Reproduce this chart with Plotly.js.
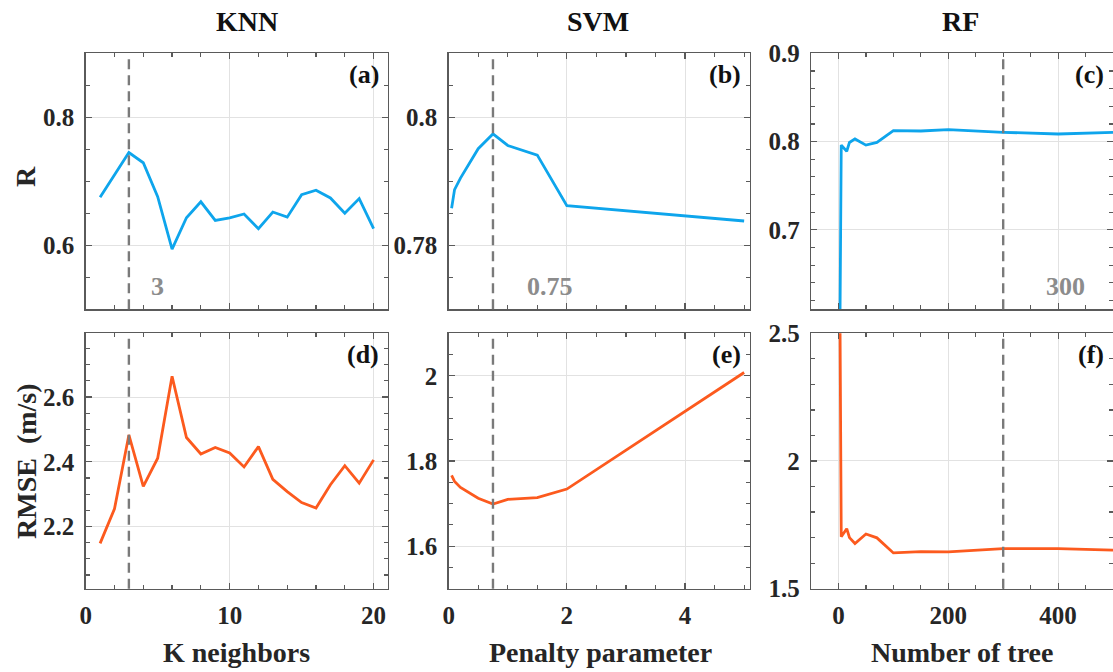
<!DOCTYPE html>
<html>
<head>
<meta charset="utf-8">
<script src="https://cdn.plot.ly/plotly-3.0.1.min.js"></script>
<style>html,body{margin:0;padding:0;background:#fff;}#chart{width:1113px;height:672px;}</style>
</head>
<body>
<div id="chart"></div>
<script>
// ---------- data ----------
const kNeighbors = [1,2,3,4,5,6,7,8,9,10,11,12,13,14,15,16,17,18,19,20];
const knnR    = [0.675,0.710,0.745,0.729,0.676,0.594,0.643,0.668,0.639,0.643,0.649,0.626,0.652,0.644,0.679,0.686,0.674,0.650,0.673,0.626];
const knnRMSE = [2.148,2.255,2.483,2.324,2.411,2.664,2.475,2.424,2.444,2.427,2.384,2.447,2.346,2.308,2.274,2.257,2.329,2.388,2.334,2.406];

const svmPenalty = [0.05,0.1,0.2,0.5,0.75,1,1.5,2,5];
const svmR    = [0.7858,0.7887,0.7905,0.7951,0.7974,0.7956,0.7941,0.7862,0.7838];
const svmRMSE = [1.766,1.752,1.738,1.7125,1.699,1.710,1.714,1.734,2.008];

const rfTrees = [1,5,15,20,30,50,70,100,150,200,300,400,500];
const rfR    = [0.45,0.796,0.789,0.799,0.803,0.796,0.799,0.8124,0.812,0.8135,0.8105,0.8086,0.8105];
const rfRMSE = [3.2,1.703,1.735,1.700,1.677,1.714,1.699,1.640,1.645,1.644,1.657,1.657,1.651];

const modelNames = ['KNN','SVM','RF'];
const xTitles = ['K neighbors','Penalty parameter','Number of tree'];
const panelLabels = ['(a)','(b)','(c)','(d)','(e)','(f)'];
const bestParams = [3, 0.75, 300];
const bestLabels = ['3','0.75','300'];

const knnXTicks = [0,10,20];        const knnXText = ['0','10','20'];
const svmXTicks = [0,2,4];          const svmXText = ['0','2','4'];
const rfXTicks  = [0,200,400];      const rfXText  = ['0','200','400'];
const knnRTicks = [0.6,0.8];        const knnRText = ['0.6','0.8'];
const svmRTicks = [0.78,0.80];      const svmRText = ['0.78','0.8'];
const rfRTicks  = [0.7,0.8,0.9];    const rfRText  = ['0.7','0.8','0.9'];
const knnETicks = [2.2,2.4,2.6];    const knnEText = ['2.2','2.4','2.6'];
const svmETicks = [1.6,1.8,2.0];    const svmEText = ['1.6','1.8','2'];
const rfETicks  = [1.5,2.0,2.5];    const rfEText  = ['1.5','2','2.5'];

// ---------- style ----------
const FONT = 'Liberation Serif';
const blue = '#0ea5ec';
const orange = '#fc5a1e';
const axisCol = '#5a5a5a';
function tickFont(){ return {family: FONT, size: 25, color: '#262626', weight: 'bold'}; }

const colDom = [[0.0770,0.3486],[0.4031,0.6739],[0.7287,1.0]];
const rowDom = [[0.5397,0.9207],[0.1240,0.5040]];

function axisBase(dom, range, tv, tt, minorD, anchor){
  return {domain: dom, range: range, anchor: anchor, tickmode:'array', tickvals: tv, ticktext: tt,
    ticks:'inside', ticklen:6, tickwidth:1.2, tickcolor: axisCol,
    minor:{ticks:'inside', ticklen:4, tickwidth:1.2, tickcolor: axisCol, dtick: minorD, tick0: 0, showgrid:false},
    showline:true, linecolor: axisCol, linewidth:1.4, mirror:'allticks',
    showgrid:true, gridcolor:'#e2e2e2', gridwidth:1, zeroline:false,
    tickfont: tickFont(), fixedrange:true};
}
function xAxis(dom, range, tv, tt, minorD, showLabels, anchor){
  const a = axisBase(dom, range, tv, tt, minorD, anchor);
  a.showticklabels = showLabels;
  a.ticklabelstandoff = 4;
  return a;
}
function yAxis(dom, range, tv, tt, minorD, anchor){
  const a = axisBase(dom, range, tv, tt, minorD, anchor);
  a.ticklabelstandoff = 5;
  return a;
}

const xs = [kNeighbors, svmPenalty, rfTrees];
const rs = [knnR, svmR, rfR];
const es = [knnRMSE, svmRMSE, rfRMSE];

const traces = [];
for (let c = 0; c < 3; c++) {
  traces.push({x: xs[c], y: rs[c], type:'scatter', mode:'lines', line:{color: blue, width:2.8},
    xaxis: 'x' + (c+1), yaxis: 'y' + (c+1), showlegend:false, hoverinfo:'skip'});
  traces.push({x: xs[c], y: es[c], type:'scatter', mode:'lines', line:{color: orange, width:2.8},
    xaxis: 'x' + (c+4), yaxis: 'y' + (c+4), showlegend:false, hoverinfo:'skip'});
}

const xRanges = [[0,21],[0,5.1],[-50,500]];
const xTV = [knnXTicks, svmXTicks, rfXTicks];
const xTT = [knnXText, svmXText, rfXText];
const xMinor = [2, 0.5, 50];
const rRanges = [[0.5,0.9],[0.77,0.81],[0.61,0.9]];
const rTV = [knnRTicks, svmRTicks, rfRTicks];
const rTT = [knnRText, svmRText, rfRText];
const rMinor = [0.05, 0.005, 0.02];
const eRanges = [[2.008,2.797],[1.5,2.1],[1.5,2.5]];
const eTV = [knnETicks, svmETicks, rfETicks];
const eTT = [knnEText, svmEText, rfEText];
const eMinor = [0.05, 0.05, 0.1];

const layout = {
  width:1113, height:672, margin:{l:0,r:0,t:0,b:0},
  paper_bgcolor:'#ffffff', plot_bgcolor:'#ffffff',
  font:{family: FONT},
  showlegend:false, shapes:[], annotations:[]
};

for (let c = 0; c < 3; c++) {
  const top = c+1, bot = c+4;
  layout['xaxis'+top] = xAxis(colDom[c], xRanges[c], xTV[c], xTT[c], xMinor[c], false, 'y'+top);
  layout['yaxis'+top] = yAxis(rowDom[0], rRanges[c], rTV[c], rTT[c], rMinor[c], 'x'+top);
  layout['xaxis'+bot] = xAxis(colDom[c], xRanges[c], xTV[c], xTT[c], xMinor[c], true, 'y'+bot);
  layout['yaxis'+bot] = yAxis(rowDom[1], eRanges[c], eTV[c], eTT[c], eMinor[c], 'x'+bot);

  // dashed optimum lines
  [top, bot].forEach(function(k){
    layout.shapes.push({type:'line', xref:'x'+k, yref:'y'+k+' domain', x0: bestParams[c], x1: bestParams[c], y0:0, y1:1,
      line:{color:'#7a7a7a', width:2.4, dash:'10px,6px'}});
  });
}

// best-parameter labels
const bestLabelX = [5, 1.72, 414];
for (let c = 0; c < 3; c++) {
  layout.annotations.push({text: bestLabels[c], xref:'x'+(c+1), yref:'y'+(c+1)+' domain', x: bestLabelX[c], y: 0.09,
    showarrow:false, font:{family:FONT, size:26, color:'#8c8c8c', weight:'bold'}, xanchor:'center', yanchor:'middle'});
}
// panel labels
for (let k = 1; k <= 6; k++) {
  layout.annotations.push({text: panelLabels[k-1], xref:'x'+k+' domain', yref:'y'+k+' domain', x:1, y:1,
    xanchor:'right', yanchor:'top', xshift:-7, yshift:-5, showarrow:false,
    font:{family:FONT, size:26, color:'#111111', weight:'bold'}});
}
// column titles
const titleX = [246.7/1113, 598/1113, 960/1113];
for (let c = 0; c < 3; c++) {
  layout.annotations.push({text: modelNames[c], xref:'paper', yref:'paper', x: titleX[c], y: 1-21.7/672,
    xanchor:'center', yanchor:'middle', showarrow:false, font:{family:FONT, size:28, color:'#111111', weight:'bold'}});
}
// x titles
const xTitleX = [236.7/1113, 600/1113, 962/1113];
for (let c = 0; c < 3; c++) {
  layout.annotations.push({text: xTitles[c], xref:'paper', yref:'paper', x: xTitleX[c], y: 1-652/672,
    xanchor:'center', yanchor:'middle', showarrow:false, font:{family:FONT, size:28, color:'#262626', weight:'bold'}});
}
// y titles
layout.annotations.push({text:'R', xref:'paper', yref:'paper', x: 25/1113, y: 1-177/672, textangle:-90,
  xanchor:'center', yanchor:'middle', showarrow:false, font:{family:FONT, size:28, color:'#262626', weight:'bold'}});
layout.annotations.push({text:'RMSE  (m/s)', xref:'paper', yref:'paper', x: 26/1113, y: 1-461/672, textangle:-90,
  xanchor:'center', yanchor:'middle', showarrow:false, font:{family:FONT, size:28, color:'#262626', weight:'bold'}});

Plotly.newPlot('chart', traces, layout, {staticPlot:true, displayModeBar:false});
</script>
</body>
</html>
